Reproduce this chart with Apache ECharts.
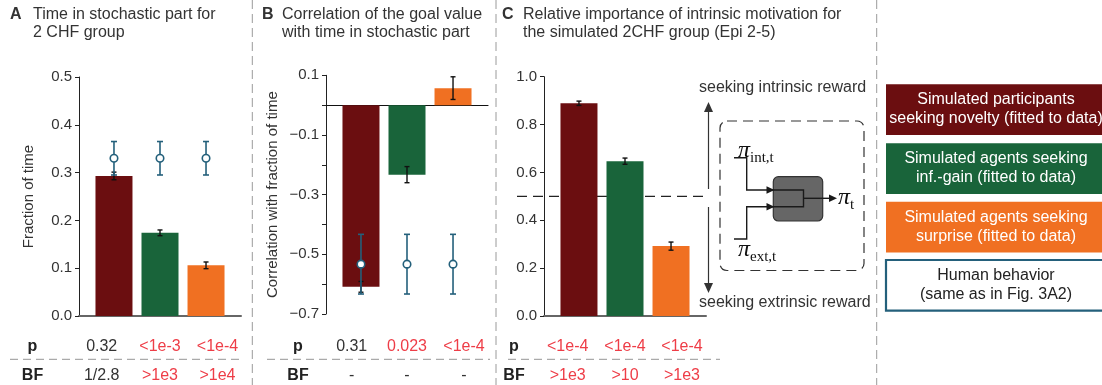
<!DOCTYPE html>
<html>
<head>
<meta charset="utf-8">
<script src="https://cdn.jsdelivr.net/npm/echarts@6/dist/echarts.min.js"></script>
<style>
  html, body { margin: 0; padding: 0; background: #fff; }
  #chart { width: 1102px; height: 385px; }
</style>
</head>
<body>
<div id="chart"></div>
<script>
// ---- data ----
const groupIndex = [0, 1, 2];               // novelty, inf.-gain, surprise

// A: fraction of time in stochastic part (2 CHF group)
const timeFraction    = [0.293, 0.174, 0.106];
const timeFractionErr = [0.008, 0.006, 0.007];
const humanTime       = [0.33, 0.33, 0.33];
const humanTimeErr    = [0.035, 0.035, 0.035];

// B: correlation of goal value with time in stochastic part
const goalCorr        = [-0.609, -0.233, 0.057];
const goalCorrErr     = [0.018, 0.027, 0.038];
const humanCorr       = [-0.533, -0.533, -0.533];
const humanCorrErr    = [0.10, 0.10, 0.10];

// C: relative importance of intrinsic motivation
const intrinsicWeight    = [0.889, 0.647, 0.292];
const intrinsicWeightErr = [0.009, 0.013, 0.017];
const neutralWeight      = 0.5;

// statistics rows
const pA  = ['0.32', '<1e-3', '<1e-4'];   const pASig  = [false, true, true];
const bfA = ['1/2.8', '>1e3', '>1e4'];    const bfASig = [false, true, true];
const pB  = ['0.31', '0.023', '<1e-4'];   const pBSig  = [false, true, true];
const bfB = ['-', '-', '-'];              const bfBSig = [false, false, false];
const pC  = ['<1e-4', '<1e-4', '<1e-4'];  const pCSig  = [true, true, true];
const bfC = ['>1e3', '>10', '>1e3'];      const bfCSig = [true, true, true];

const legendLabels = [
  ['Simulated participants', 'seeking novelty (fitted to data)'],
  ['Simulated agents seeking', 'inf.-gain (fitted to data)'],
  ['Simulated agents seeking', 'surprise (fitted to data)'],
  ['Human behavior', '(same as in Fig. 3A2)']
];

// ---- styling ----
const FONT = "'Liberation Sans', Arial, sans-serif";
const SERIF = "'Liberation Serif', 'DejaVu Serif', serif";
const TEXT = '#333';
const SIG_RED = '#ee3d47';
const BAR_COLORS = ['#6b0e10', '#19643a', '#f07022'];
const HUMAN = '#24607b';
const SEP = '#9a9a9a';

const chart = echarts.init(document.getElementById('chart'));

const grids = [
  { left: 79,  top: 77,   width: 162, height: 239 },
  { left: 326, top: 75.3, width: 162, height: 238.7 },
  { left: 544, top: 76.7, width: 162, height: 239.3 }
];

function xAxisFor(i, lineColor, lineWidth) {
  return {
    type: 'value', gridIndex: i, min: -0.76, max: 2.76,
    axisLine: { show: true, onZero: true, lineStyle: { color: lineColor, width: lineWidth } },
    axisTick: { show: false }, axisLabel: { show: false }, splitLine: { show: false }
  };
}

function yAxisFor(i, min, max, interval, formatter, name, nameGap) {
  return {
    type: 'value', gridIndex: i, min, max, interval,
    axisLine: { show: true, onZero: false, lineStyle: { color: '#222', width: 1 } },
    axisTick: { show: true, length: 4, lineStyle: { color: '#222', width: 1 } },
    axisLabel: { formatter, margin: 7, color: TEXT, fontSize: 15, fontFamily: FONT },
    splitLine: { show: false },
    name: name || '', nameLocation: 'middle', nameGap: nameGap || 0,
    nameTextStyle: { color: TEXT, fontSize: 15, fontFamily: FONT }
  };
}

const oneDecimal = v => v.toFixed(1);
const oddTenths = v => {
  const k = Math.round(v * 10);
  if (k % 2 === 0) return '';
  return (v < 0 ? '\u2212' : '') + Math.abs(v).toFixed(1);
};

function barSeries(ai, values) {
  return {
    type: 'bar', xAxisIndex: ai, yAxisIndex: ai, barWidth: 37, z: 2, silent: true,
    data: values.map((v, i) => ({ value: [groupIndex[i], v], itemStyle: { color: BAR_COLORS[i] } }))
  };
}

function errorSeries(ai, values, errs, color, capHalf, lw, z) {
  return {
    type: 'custom', xAxisIndex: ai, yAxisIndex: ai, z, clip: false, silent: true,
    data: values.map((v, i) => [groupIndex[i], v, errs[i]]),
    encode: { x: 0, y: 1 },
    renderItem(params, api) {
      const x = api.value(0), v = api.value(1), e = api.value(2);
      const top = api.coord([x, v + e]);
      const bot = api.coord([x, v - e]);
      const st = { stroke: color, lineWidth: lw };
      return {
        type: 'group', children: [
          { type: 'line', shape: { x1: top[0], y1: top[1], x2: bot[0], y2: bot[1] }, style: st },
          { type: 'line', shape: { x1: top[0] - capHalf, y1: top[1], x2: top[0] + capHalf, y2: top[1] }, style: st },
          { type: 'line', shape: { x1: bot[0] - capHalf, y1: bot[1], x2: bot[0] + capHalf, y2: bot[1] }, style: st }
        ]
      };
    }
  };
}

function humanSeries(ai, values) {
  return {
    type: 'scatter', xAxisIndex: ai, yAxisIndex: ai, z: 6, silent: true,
    symbol: 'circle', symbolSize: 7.5,
    itemStyle: { color: '#fff', borderColor: HUMAN, borderWidth: 1.6, opacity: 1 },
    data: values.map((v, i) => [groupIndex[i], v])
  };
}

// dashed reference level across panel C, running a little past both axis ends
const referenceLine = {
  type: 'custom', xAxisIndex: 2, yAxisIndex: 2, z: 1, clip: false, silent: true,
  data: [[0, neutralWeight]],
  encode: { x: 0, y: 1 },
  renderItem(params, api) {
    const p = api.coord([0, api.value(1)]);
    const cs = params.coordSys;
    return {
      type: 'line',
      shape: { x1: cs.x - 27, y1: p[1], x2: cs.x + cs.width + 2, y2: p[1] },
      style: { stroke: '#222', lineWidth: 1.1, lineDash: [10, 6] }
    };
  }
};

// ---- decorative / text graphics ----
const g = [];
function txt(x, y, text, opt) {
  opt = opt || {};
  g.push({
    type: 'text', x, y, silent: true, z: 10,
    style: {
      text, fill: opt.color || TEXT,
      font: (opt.weight || 'normal') + ' ' + (opt.size || 16) + 'px ' + (opt.family || FONT),
      align: opt.align || 'left', verticalAlign: opt.valign || 'middle',
      textAlign: opt.align || 'left', textVerticalAlign: opt.valign || 'middle'
    }
  });
}
function line(x1, y1, x2, y2, stroke, lw, dash) {
  g.push({ type: 'line', silent: true, z: 9, shape: { x1, y1, x2, y2 },
    style: { stroke, lineWidth: lw, lineDash: dash || null } });
}
function tri(points, fill) {
  g.push({ type: 'polygon', silent: true, z: 9, shape: { points }, style: { fill } });
}

// panel titles
txt(10, 15, 'A', { weight: 'bold' });
txt(33, 15, 'Time in stochastic part for');
txt(33, 33, '2 CHF group');
txt(262, 15, 'B', { weight: 'bold' });
txt(282, 15, 'Correlation of the goal value');
txt(282, 33, 'with time in stochastic part');
txt(502, 15, 'C', { weight: 'bold' });
txt(523, 15, 'Relative importance of intrinsic motivation for');
txt(523, 33, 'the simulated 2CHF group (Epi 2-5)');

// panel separators
[252.3, 496, 876.7].forEach(x => line(x, 0, x, 385, SEP, 1, [9, 5]));

// statistics rows
const statRowP = 347, statRowBF = 375.5, statRule = 359.3;
function statBlock(labelX, colX, pv, pSig, bf, bfSig, ruleX1, ruleX2) {
  txt(labelX, statRowP, 'p', { weight: 'bold', align: 'center', color: '#222' });
  txt(labelX, statRowBF, 'BF', { weight: 'bold', align: 'center', color: '#222' });
  colX.forEach((x, i) => {
    txt(x, statRowP, pv[i], { align: 'center', color: pSig[i] ? SIG_RED : TEXT });
    txt(x, statRowBF, bf[i], { align: 'center', color: bfSig[i] ? SIG_RED : TEXT });
  });
  line(ruleX1, statRule, ruleX2, statRule, '#aaa', 1.3, [8, 5]);
}
statBlock(32.5, [101.7, 160, 217.5], pA, pASig, bfA, bfASig, 10, 241);
statBlock(298, [351.7, 407, 464], pB, pBSig, bfB, bfBSig, 267, 490);
statBlock(514, [567.7, 625, 682], pC, pCSig, bfC, bfCSig, 508, 720);

// intrinsic / extrinsic arrow
const ax = 708.5;
line(ax, 110, ax, 189, '#333', 1.2);
line(ax, 207, ax, 285, '#333', 1.2);
tri([[ax, 102], [ax - 4.5, 112], [ax + 4.5, 112]], '#333');
tri([[ax, 293], [ax - 4.5, 283], [ax + 4.5, 283]], '#333');
txt(699, 88, 'seeking intrinsic reward');
txt(699, 303, 'seeking extrinsic reward');

// policy-mixing diagram
g.push({ type: 'rect', silent: true, z: 8,
  shape: { x: 720, y: 121, width: 144, height: 149.5, r: 7 },
  style: { fill: 'none', stroke: '#333', lineWidth: 1.2, lineDash: [10, 6] } });
g.push({ type: 'rect', silent: true, z: 8,
  shape: { x: 773.3, y: 176.7, width: 49.4, height: 44.3, r: 5 },
  style: { fill: '#666', stroke: '#333', lineWidth: 1.2 } });
g.push({ type: 'polyline', silent: true, z: 9,
  shape: { points: [[734, 157.7], [746.7, 157.7], [746.7, 190], [803.5, 190], [803.5, 206.7],
                    [746.7, 206.7], [746.7, 239], [734, 239]] },
  style: { fill: 'none', stroke: '#1a1a1a', lineWidth: 1.4 } });
line(803.5, 198.3, 830, 198.3, '#1a1a1a', 1.4);
tri([[774.5, 190], [766.5, 186.3], [766.5, 193.7]], '#1a1a1a');
tri([[774.5, 206.7], [766.5, 203], [766.5, 210.4]], '#1a1a1a');
tri([[837, 198.3], [829, 194.6], [829, 202]], '#1a1a1a');

function piLabel(x, y, sub) {
  g.push({ type: 'text', x, y, silent: true, z: 10,
    style: {
      text: '{p|\u03c0}{s|' + sub + '}',
      align: 'left', verticalAlign: 'middle', textAlign: 'left', textVerticalAlign: 'middle',
      rich: {
        p: { fontFamily: SERIF, fontStyle: 'italic', fontSize: 24, fill: '#111', color: '#111',
             verticalAlign: 'bottom', lineHeight: 24 },
        s: { fontFamily: SERIF, fontSize: 15, fill: '#111', color: '#111',
             verticalAlign: 'bottom', lineHeight: 14, padding: [0, 0, -3, 0] }
      }
    }
  });
}
piLabel(738, 151, 'int,t');
piLabel(738, 250, 'ext,t');
piLabel(838, 198, 't');

// legend boxes
const legendTops = [84.3, 143.3, 201.7, 260];
legendTops.forEach((top, i) => {
  const human = i === 3;
  g.push({ type: 'rect', silent: true, z: 8,
    shape: { x: 886, y: top, width: 222, height: 50.7 },
    style: human ? { fill: '#fff', stroke: HUMAN, lineWidth: 2.2 } : { fill: BAR_COLORS[i] } });
  const cy = top + 25;
  txt(996, cy - 9.5, legendLabels[i][0], { align: 'center', color: human ? '#222' : '#fff' });
  txt(996, cy + 9.5, legendLabels[i][1], { align: 'center', color: human ? '#222' : '#fff' });
});

chart.setOption({
  animation: false,
  grid: grids,
  xAxis: [xAxisFor(0, '#666', 2), xAxisFor(1, '#111', 1.1), xAxisFor(2, '#666', 2)],
  yAxis: [
    yAxisFor(0, 0, 0.5, 0.1, oneDecimal, 'Fraction of time', 43),
    yAxisFor(1, -0.7, 0.1, 0.1, oddTenths, 'Correlation with fraction of time', 46),
    yAxisFor(2, 0, 1, 0.2, oneDecimal)
  ],
  series: [
    barSeries(0, timeFraction),
    errorSeries(0, timeFraction, timeFractionErr, '#111', 2.5, 1.4, 3),
    errorSeries(0, humanTime, humanTimeErr, HUMAN, 3, 1.6, 5),
    humanSeries(0, humanTime),

    barSeries(1, goalCorr),
    errorSeries(1, goalCorr, goalCorrErr, '#111', 2.5, 1.4, 3),
    errorSeries(1, humanCorr, humanCorrErr, HUMAN, 3, 1.6, 5),
    humanSeries(1, humanCorr),

    referenceLine,
    barSeries(2, intrinsicWeight),
    errorSeries(2, intrinsicWeight, intrinsicWeightErr, '#111', 2.5, 1.4, 3)
  ],
  graphic: { elements: g }
});
</script>
</body>
</html>
